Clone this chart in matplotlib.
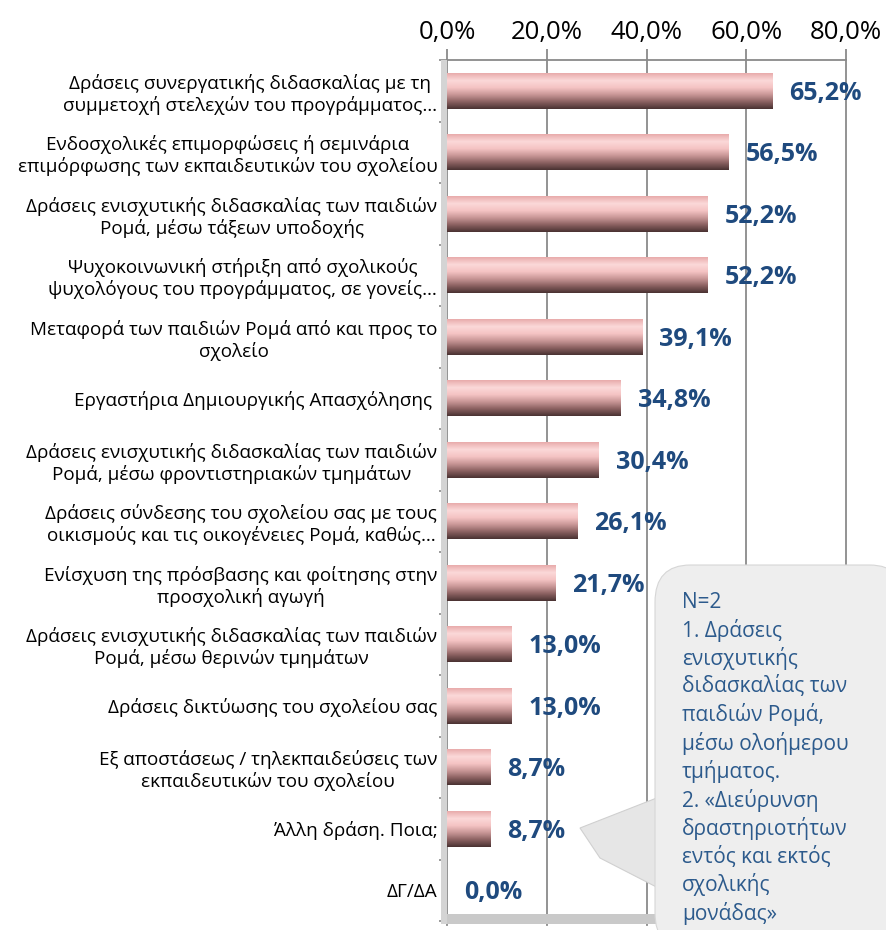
import numpy as np
import matplotlib.pyplot as plt
from matplotlib.colors import LinearSegmentedColormap
from matplotlib.patches import FancyBboxPatch, Polygon, Rectangle

# ---------------------------------------------------------------
# Daten
# ---------------------------------------------------------------
kategorien = [
    "Δράσεις συνεργατικής διδασκαλίας με τη\nσυμμετοχή στελεχών του προγράμματος…",
    "Ενδοσχολικές επιμορφώσεις ή σεμινάρια\nεπιμόρφωσης των εκπαιδευτικών του σχολείου",
    "Δράσεις ενισχυτικής διδασκαλίας των παιδιών\nΡομά, μέσω τάξεων υποδοχής",
    "Ψυχοκοινωνική στήριξη από σχολικούς\nψυχολόγους του προγράμματος, σε γονείς…",
    "Μεταφορά των παιδιών Ρομά από και προς το\nσχολείο",
    "Εργαστήρια Δημιουργικής Απασχόλησης ",
    "Δράσεις ενισχυτικής διδασκαλίας των παιδιών\nΡομά, μέσω φροντιστηριακών τμημάτων",
    "Δράσεις σύνδεσης του σχολείου σας με τους\nοικισμούς και τις οικογένειες Ρομά, καθώς…",
    "Ενίσχυση της πρόσβασης και φοίτησης στην\nπροσχολική αγωγή",
    "Δράσεις ενισχυτικής διδασκαλίας των παιδιών\nΡομά, μέσω θερινών τμημάτων",
    "Δράσεις δικτύωσης του σχολείου σας",
    "Εξ αποστάσεως / τηλεκπαιδεύσεις των\nεκπαιδευτικών του σχολείου",
    "Άλλη δράση. Ποια;",
    "ΔΓ/ΔΑ",
]
werte = [65.2, 56.5, 52.2, 52.2, 39.1, 34.8, 30.4, 26.1, 21.7, 13.0, 13.0, 8.7, 8.7, 0.0]
x_ticks = [0, 20, 40, 60, 80]

notiz = ("N=2\n1. Δράσεις\nενισχυτικής\nδιδασκαλίας των\nπαιδιών Ρομά,\n"
         "μέσω ολοήμερου\nτμήματος.\n2. «Διεύρυνση\nδραστηριοτήτων\n"
         "εντός και εκτός\nσχολικής\nμονάδας»")

# ---------------------------------------------------------------
# Stil
# ---------------------------------------------------------------
plt.rcParams['font.family'] = ['Open Sans', 'DejaVu Sans']
W, H = 886, 930
fig = plt.figure(figsize=(W / 100, H / 100), dpi=100)
fig.patch.set_facecolor('white')

# Achse: x=0 bei 447px, x=80 bei 846px, oben 60px, unten 925px
ax = fig.add_axes([447 / W, 1 - 925 / H, (846 - 447) / W, (925 - 60) / H])
ax.set_facecolor('white')

balken_farben = LinearSegmentedColormap.from_list(
    'balken', ['#e9acac', '#fbd9d9', '#f5c4c4', '#c99797', '#8c6262', '#4b3333'])
grad = np.linspace(0, 1, 64).reshape(-1, 1)

y = np.arange(len(werte))
h = 0.58
for i, v in zip(y, werte):
    if v > 0:
        ax.imshow(grad, extent=[0, v, i + h / 2, i - h / 2], origin='upper',
                  aspect='auto', cmap=balken_farben, zorder=3, interpolation='bilinear')
    ax.text(v + 3.4, i + 0.04, f"{v:.1f}%".replace('.', ','), va='center', ha='left',
            fontsize=18, fontweight='bold', color='#1f4a7e', zorder=4)

ax.set_xlim(0, 80)
ax.set_ylim(13.565, -0.387)

# Gitter
for t in x_ticks[1:]:
    ax.axvline(t, color='#8a8a8a', linewidth=1.3, zorder=1, clip_on=False)

ax.xaxis.tick_top()
ax.set_xticks(x_ticks)
ax.set_xticklabels([f"{t:.1f}%".replace('.', ',') for t in x_ticks], fontsize=18.5)
ax.tick_params(axis='x', length=8, width=1.3, color='#8a8a8a', pad=3)

ax.set_yticks(y)
ax.set_yticklabels(kategorien, fontsize=13.6)
ax.tick_params(axis='y', length=0, pad=7)
for lbl in ax.get_yticklabels():
    lbl.set_multialignment('center')
    lbl.set_linespacing(1.2)
ax.set_yticks(np.arange(len(werte) + 1) - 0.5, minor=True)
ax.tick_params(axis='y', which='minor', length=6, width=1.2, color='#8a8a8a')

for s in ['right', 'bottom']:
    ax.spines[s].set_visible(False)
for s in ['top', 'left']:
    ax.spines[s].set_color('#8a8a8a')
    ax.spines[s].set_linewidth(1.3)

# 3D-Boden und Wand andeuten
fig.patches.append(Rectangle((441 / W, 1 - 924 / H), (870 - 441) / W, 10 / H,
                             transform=fig.transFigure, facecolor='#c9c9c9',
                             edgecolor='none', zorder=0))
fig.patches.append(Rectangle((441 / W, 1 - 924 / H), 6 / W, (924 - 60) / H,
                             transform=fig.transFigure, facecolor='#d4d4d4',
                             edgecolor='none', zorder=0))

# Sprechblase
def fx(px):
    return px / W

def fy(py):
    return 1 - py / H

schwanz = Polygon([(fx(672), fy(792)), (fx(580), fy(828)), (fx(600), fy(858)),
                   (fx(672), fy(895))], closed=True, transform=fig.transFigure,
                  facecolor='#e6e6e6', edgecolor='#d0d0d0', linewidth=0.8, zorder=5)
fig.patches.append(schwanz)
box = FancyBboxPatch((fx(655), fy(950)), fx(905) - fx(655), fy(565) - fy(950),
                     boxstyle='round,pad=0,rounding_size=0.04',
                     transform=fig.transFigure, facecolor='#eeeeee',
                     edgecolor='#d6d6d6', linewidth=0.8, zorder=6)
fig.patches.append(box)
fig.text(fx(682), fy(592), notiz, ha='left', va='top', fontsize=15,
         color='#2c5a8c', linespacing=1.31, zorder=7)

plt.savefig('out.png', dpi=100, facecolor='white')
